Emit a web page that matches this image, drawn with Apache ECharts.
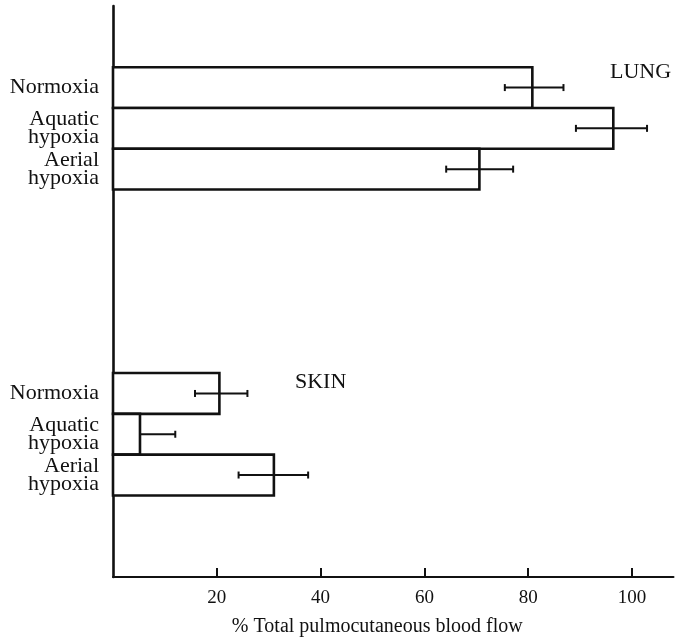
<!DOCTYPE html>
<html>
<head>
<meta charset="utf-8">
<script src="https://cdn.jsdelivr.net/npm/echarts@6/dist/echarts.min.js"></script>
<style>
html,body{margin:0;padding:0;background:#fff;}
#c{width:678px;height:642px;}
</style>
</head>
<body>
<div id="c"></div>
<script>
// ---- data ----
const categories = ['Normoxia', 'Aquatic\nhypoxia', 'Aerial\nhypoxia'];
const groupNames = ['LUNG', 'SKIN'];
const lungValues  = [80.8, 96.4, 70.6];
const lungErrLow  = [75.5, 89.2, 64.2];
const lungErrHigh = [86.8, 102.9, 77.1];
const skinValues  = [20.5, 5.2, 31.0];
const skinErrLow  = [15.8, 5.2, 24.2];
const skinErrHigh = [25.9, 12.0, 37.6];
const xTicks = [20, 40, 60, 80, 100];
const xTitle = '% Total pulmocutaneous blood flow';

// ---- build chart ----
const FONT = '"Liberation Serif", "DejaVu Serif", serif';
const groupTops = [12, 4.5];   // slot layout of the two groups on the vertical scale
const groupsData = [
  [lungValues, lungErrLow, lungErrHigh],
  [skinValues, skinErrLow, skinErrHigh]
];
const data = [];
const labelMap = {};
const labelPos = [];
groupsData.forEach((g, gi) => {
  categories.forEach((c, i) => {
    const y = groupTops[gi] - i;
    data.push([g[0][i], y, g[1][i], g[2][i]]);
    labelMap[y] = c;
    labelPos.push(y);
  });
});

function renderItem(params, api) {
  const v = api.value(0), y = api.value(1), lo = api.value(2), hi = api.value(3);
  const a = api.coord([0, y + 0.5]);
  const b = api.coord([v, y - 0.5]);
  const l = api.coord([lo, y]);
  const h = api.coord([hi, y]);
  const cap = 3.5;
  const ls = {stroke: '#111', lineWidth: 2, fill: null};
  return {
    type: 'group',
    children: [
      {type: 'rect', shape: {x: a[0], y: a[1], width: b[0] - a[0], height: b[1] - a[1]},
       style: {fill: '#fff', stroke: '#111', lineWidth: 2.6}},
      {type: 'line', shape: {x1: l[0], y1: l[1], x2: h[0], y2: h[1]}, style: ls},
      {type: 'line', shape: {x1: l[0], y1: l[1] - cap, x2: l[0], y2: l[1] + cap}, style: ls},
      {type: 'line', shape: {x1: h[0], y1: h[1] - cap, x2: h[0], y2: h[1] + cap}, style: ls}
    ]
  };
}

const chart = echarts.init(document.getElementById('c'), null, {renderer: 'canvas'});
chart.setOption({
  animation: false,
  backgroundColor: '#fff',
  grid: {left: 113, right: 4.5, top: 6, bottom: 65, containLabel: false},
  xAxis: {
    type: 'value', min: 0, max: 108,
    axisLine: {show: true, onZero: false, lineStyle: {color: '#111', width: 2}},
    axisTick: {show: true, inside: true, length: 9, customValues: xTicks, lineStyle: {color: '#111', width: 2}},
    axisLabel: {show: true, customValues: xTicks, margin: 12, color: '#111', fontFamily: FONT, fontSize: 19},
    splitLine: {show: false},
    name: xTitle, nameLocation: 'middle', nameGap: 40,
    nameTextStyle: {color: '#111', fontFamily: FONT, fontSize: 20, padding: [0, 32, 0, 0]}
  },
  yAxis: {
    type: 'value', min: 0, max: 14,
    axisLine: {show: true, onZero: false, lineStyle: {color: '#111', width: 2.6}},
    axisTick: {show: false},
    splitLine: {show: false},
    axisLabel: {
      show: true, customValues: labelPos, margin: 14, color: '#111',
      fontFamily: FONT, fontSize: 22, lineHeight: 18, align: 'right',
      formatter: v => labelMap[v] || ''
    }
  },
  graphic: [
    {type: 'text', left: 610, top: 61, style: {text: groupNames[0], fill: '#111', font: '22px ' + FONT}},
    {type: 'text', left: 295, top: 371, style: {text: groupNames[1], fill: '#111', font: '22px ' + FONT}}
  ],
  series: [{
    type: 'custom',
    renderItem: renderItem,
    encode: {x: 0, y: 1},
    data: data,
    clip: false
  }]
});
</script>
</body>
</html>
